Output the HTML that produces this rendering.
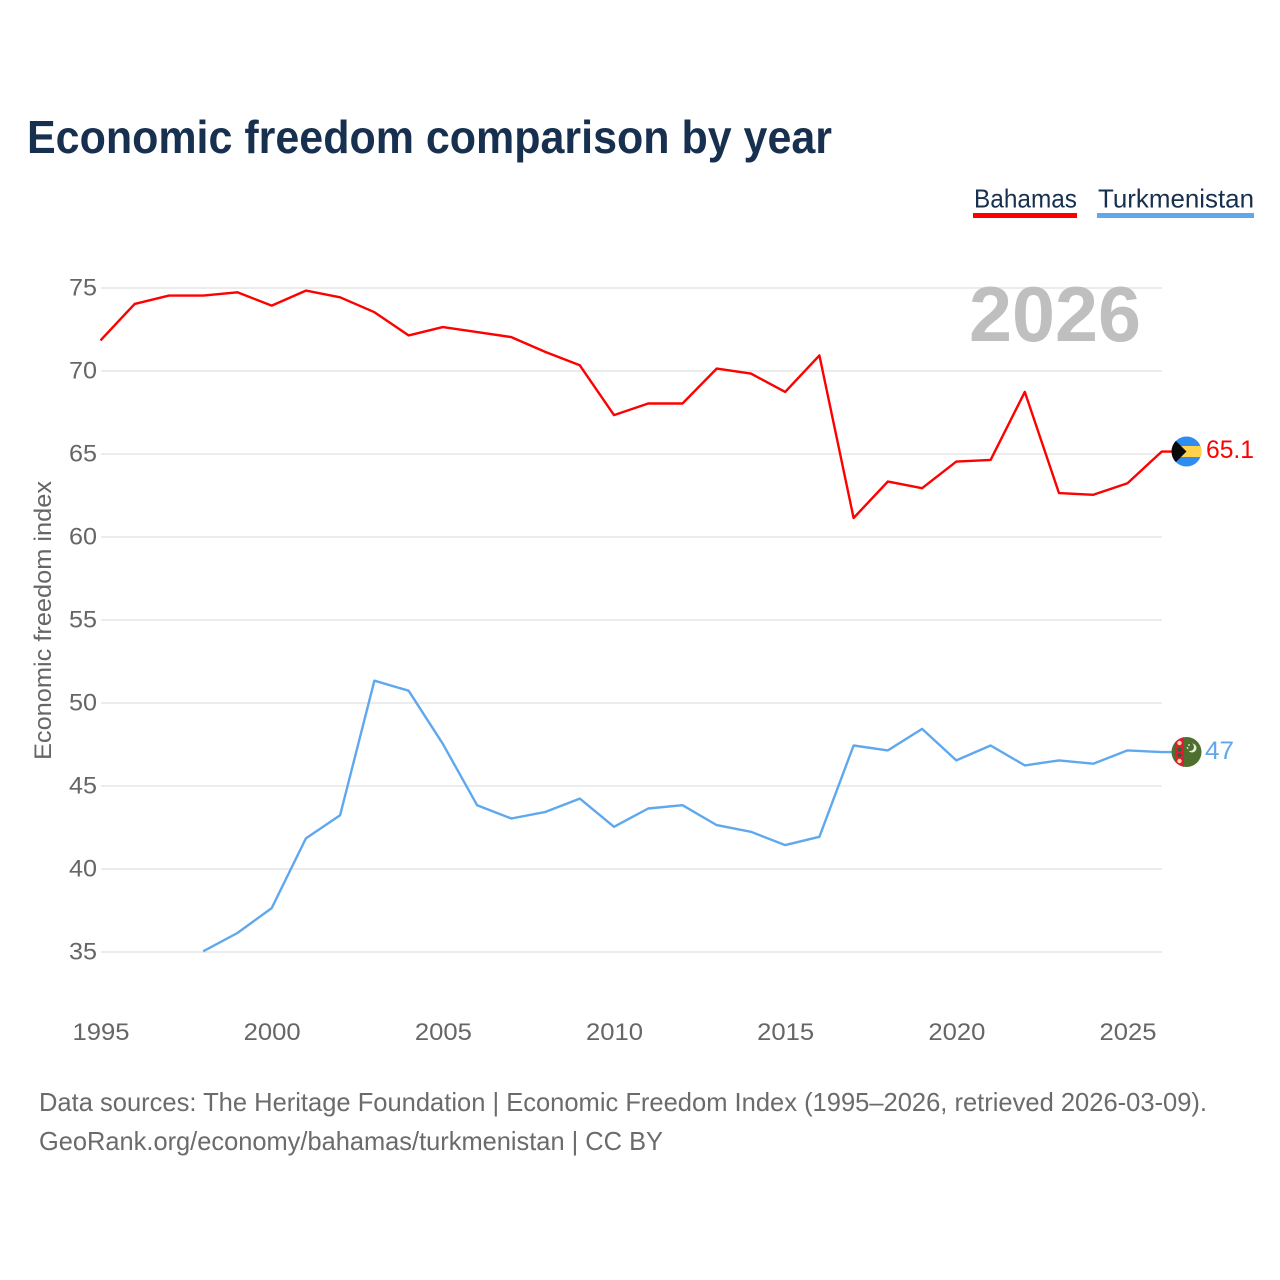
<!DOCTYPE html>
<html>
<head>
<meta charset="utf-8">
<title>Economic freedom comparison by year</title>
<style>
html,body{margin:0;padding:0;background:#fff;width:1280px;height:1280px;overflow:hidden}
svg{display:block}
text{font-family:"Liberation Sans",sans-serif}
</style>
</head>
<body>
<svg id="chart" width="1280" height="1280" viewBox="0 0 1280 1280" xmlns="http://www.w3.org/2000/svg">
  <rect x="0" y="0" width="1280" height="1280" fill="#fff"/>
  <g id="grid"></g>
  <text x="969" y="341" font-size="78" font-weight="700" fill="#bfbfbf" textLength="172" lengthAdjust="spacingAndGlyphs">2026</text>
  <g id="yticks"></g>
  <g id="xticks"></g>
  <g id="series"></g>

  <text x="27" y="153" font-size="46" font-weight="700" fill="#18304f" textLength="805" lengthAdjust="spacingAndGlyphs">Economic freedom comparison by year</text>

  <text x="974" y="207.500" font-size="26" fill="#18304f" textLength="103" lengthAdjust="spacingAndGlyphs">Bahamas</text>
  <rect x="973" y="213" width="104" height="5" fill="#ff0000"/>
  <text x="1098" y="207.500" font-size="26" fill="#18304f" textLength="156" lengthAdjust="spacingAndGlyphs">Turkmenistan</text>
  <rect x="1097" y="213" width="157" height="5" fill="#5fa8ee"/>

  <text transform="translate(51,760) rotate(-90)" font-size="24" fill="#666" textLength="279" lengthAdjust="spacingAndGlyphs">Economic freedom index</text>

  <defs>
    <clipPath id="flag-clip-bs"><circle cx="1186.500" cy="451.500" r="15"/></clipPath>
    <clipPath id="flag-clip-tm"><circle cx="1186.500" cy="752" r="15"/></clipPath>
  </defs>
  <g id="flag-bahamas" clip-path="url(#flag-clip-bs)">
    <rect x="1171" y="436" width="31" height="31" fill="#2f8cf0"/>
    <rect x="1171" y="446" width="31" height="11" fill="#ffd24d"/>
    <polygon points="1171,436 1186.500,451.500 1171,467" fill="#0a0a0a"/>
  </g>
  <g id="flag-turkmenistan" clip-path="url(#flag-clip-tm)">
    <rect x="1171" y="737" width="31" height="31" fill="#4f6f2e"/>
    <rect x="1175" y="737" width="9" height="31" fill="#d81e3a"/>
    <circle cx="1179.500" cy="743" r="2.200" fill="#ffd89a"/>
    <circle cx="1179.500" cy="749.500" r="2" fill="#3a5a2a"/>
    <circle cx="1179.500" cy="755" r="2" fill="#3a5a2a"/>
    <circle cx="1179.500" cy="761" r="2.200" fill="#ffd89a"/>
    <circle cx="1192" cy="748" r="4.500" fill="#e8efe0"/>
    <circle cx="1190" cy="747" r="4" fill="#4f6f2e"/>
    <circle cx="1189" cy="745" r="0.900" fill="#e8efe0"/>
    <circle cx="1187.500" cy="748" r="0.900" fill="#e8efe0"/>
  </g>
  <text x="1206" y="458" font-size="25" fill="#ff0000" textLength="48" lengthAdjust="spacingAndGlyphs">65.1</text>
  <text x="1205" y="759" font-size="25" fill="#5fa8ee" textLength="29" lengthAdjust="spacingAndGlyphs">47</text>

  <text x="39" y="1111" font-size="26" fill="#6b6b6b" textLength="1168" lengthAdjust="spacingAndGlyphs">Data sources: The Heritage Foundation | Economic Freedom Index (1995–2026, retrieved 2026-03-09).</text>
  <text x="39" y="1150" font-size="26" fill="#6b6b6b" textLength="624" lengthAdjust="spacingAndGlyphs">GeoRank.org/economy/bahamas/turkmenistan | CC BY</text>
</svg>
<script>
const yTickValues = [35, 40, 45, 50, 55, 60, 65, 70, 75];
const xTickValues = [1995, 2000, 2005, 2010, 2015, 2020, 2025];
const bahamasYears = [1995,1996,1997,1998,1999,2000,2001,2002,2003,2004,2005,2006,2007,2008,2009,2010,2011,2012,2013,2014,2015,2016,2017,2018,2019,2020,2021,2022,2023,2024,2025,2026];
const bahamasValues = [71.8,74.0,74.5,74.5,74.7,73.9,74.8,74.4,73.5,72.1,72.6,72.3,72.0,71.1,70.3,67.3,68.0,68.0,70.1,69.8,68.7,70.9,61.1,63.3,62.9,64.5,64.6,68.7,62.6,62.5,63.2,65.1];
const turkmenistanYears = [1998,1999,2000,2001,2002,2003,2004,2005,2006,2007,2008,2009,2010,2011,2012,2013,2014,2015,2016,2017,2018,2019,2020,2021,2022,2023,2024,2025,2026];
const turkmenistanValues = [35.0,36.1,37.6,41.8,43.2,51.3,50.7,47.5,43.8,43.0,43.4,44.2,42.5,43.6,43.8,42.6,42.2,41.4,41.9,47.4,47.1,48.4,46.5,47.4,46.2,46.5,46.3,47.1,47.0];

const NS = 'http://www.w3.org/2000/svg';
function xScale(year) { return 100.5 + (year - 1995) * (1127.5 - 100.5) / 30; }
function yScale(value) { return 952 - (value - 35) * (952 - 288) / 40; }
function make(tag, attrs, text) {
  const el = document.createElementNS(NS, tag);
  for (const k in attrs) el.setAttribute(k, attrs[k]);
  if (text !== undefined) el.textContent = text;
  return el;
}
const grid = document.getElementById('grid');
const yticks = document.getElementById('yticks');
const xticks = document.getElementById('xticks');
const series = document.getElementById('series');

yTickValues.forEach(function (v) {
  const line = make('line', {x1: 101, x2: 1162, y1: yScale(v), y2: yScale(v), stroke: '#ececec', 'stroke-width': 2});
  
  
  grid.appendChild(line);
  const label = make('text', {x: 97, y: yScale(v) + 7.5, 'text-anchor': 'end', 'font-size': 24, fill: '#666', textLength: 28, lengthAdjust: 'spacingAndGlyphs'}, String(v));
  
  
  yticks.appendChild(label);
});
xTickValues.forEach(function (v) {
  const label = make('text', {x: xScale(v) + 0.5, y: 1040, 'text-anchor': 'middle', 'font-size': 24, fill: '#666', textLength: 57, lengthAdjust: 'spacingAndGlyphs'}, String(v));
  
  
  xticks.appendChild(label);
});
function drawSeries(years, values, color, name) {
  const pts = years.map(function (y, i) { return xScale(y).toFixed(1) + ',' + (yScale(values[i]) - 0.7).toFixed(1); });
  const lastY = (yScale(values[values.length - 1]) - 0.7).toFixed(1);
  pts.push('1172,' + lastY);
  const line = make('polyline', {points: pts.join(' '), fill: 'none', stroke: color, 'stroke-width': 2.4, 'stroke-linejoin': 'round'});
  
  
  series.appendChild(line);
}
drawSeries(bahamasYears, bahamasValues, '#ff0000', 'bahamas-line');
drawSeries(turkmenistanYears, turkmenistanValues, '#5fa8ee', 'turkmenistan-line');
</script>
</body>
</html>
